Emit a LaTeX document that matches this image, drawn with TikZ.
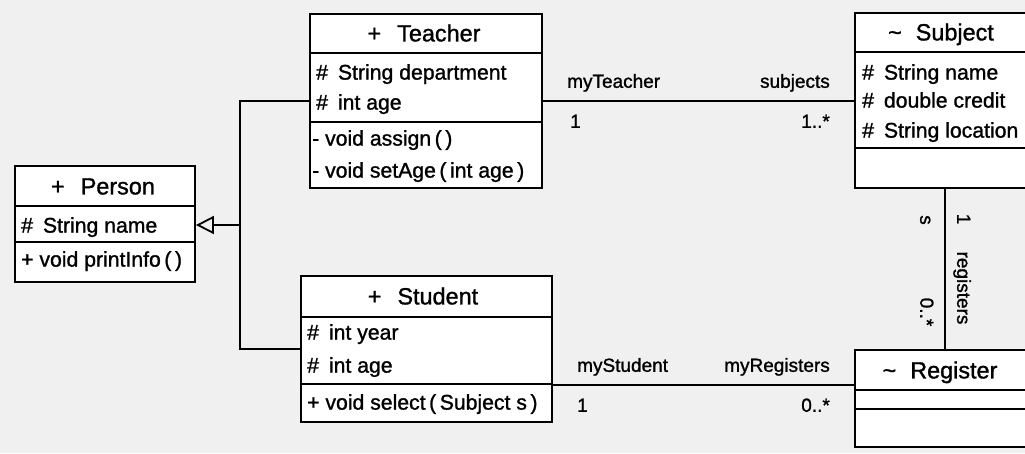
\documentclass[tikz,border=0pt]{standalone}
\usepackage{fontspec}
\setmainfont{Liberation Sans}[FakeBold=1.2]
\usetikzlibrary{arrows.meta}
\definecolor{bg}{RGB}{240,240,240}
\begin{document}
\begin{tikzpicture}[x=1pt,y=-1pt,
  classbox/.style={draw, fill=white, line width=1.8pt, inner sep=0pt, rectangle},
  title/.style={font=\fontsize{23.4}{26}\selectfont, inner sep=0pt, text height=16.8pt, text depth=0pt},
  member/.style={font=\fontsize{21.2}{24}\selectfont, anchor=west, inner sep=0pt, text height=15.2pt, text depth=0pt},
  role/.style={font=\fontsize{19}{22}\selectfont, inner sep=0pt, text height=13.6pt, text depth=0pt},
  rule/.style={line width=1.8pt},
  link/.style={line width=1.8pt}]
\fill[bg] (0,0) rectangle (1025,453);
\useasboundingbox (0,0) rectangle (1025,453);
\clip (0,0) rectangle (1025,453);

% Person
\node[classbox, minimum width=180pt, minimum height=116pt] (person) at (105,224) {};
\draw[rule] (person.west |- 0,206) -- (person.east |- 0,206);
\draw[rule] (person.west |- 0,242) -- (person.east |- 0,242);
\node[title] (personT) at (103,186) {+\hspace{16pt}Person};
\node[member] (personA1) at (21,225) {\#\hspace{10pt}String name};
\node[member] (personM1) at (21,259) {+ void printInfo\,(\,)};

% Teacher
\node[classbox, minimum width=232pt, minimum height=174pt] (teacher) at (426,101) {};
\draw[rule] (teacher.west |- 0,53) -- (teacher.east |- 0,53);
\draw[rule] (teacher.west |- 0,122) -- (teacher.east |- 0,122);
\node[title] (teacherT) at (424,33) {+\hspace{16pt}Teacher};
\node[member] (teacherA1) at (316,72) {\#\hspace{10pt}String department};
\node[member] (teacherA2) at (316,102) {\#\hspace{10pt}int age};
\node[member] (teacherM1) at (312,138) {- void assign\,(\,)};
\node[member] (teacherM2) at (312,170) {- void setAge\,(\,int age\,)};

% Student
\node[classbox, minimum width=251pt, minimum height=146pt] (student) at (426.5,349) {};
\draw[rule] (student.west |- 0,317) -- (student.east |- 0,317);
\draw[rule] (student.west |- 0,384) -- (student.east |- 0,384);
\node[title] (studentT) at (423,296) {+\hspace{16pt}Student};
\node[member] (studentA1) at (307,332) {\#\hspace{10pt}int year};
\node[member] (studentA2) at (307,365) {\#\hspace{10pt}int age};
\node[member] (studentM1) at (307,402) {+ void select\,(\,Subject s\,)};

% Subject
\node[classbox, minimum width=180pt, minimum height=175pt] (subject) at (945,100.5) {};
\draw[rule] (subject.west |- 0,52) -- (subject.east |- 0,52);
\draw[rule] (subject.west |- 0,148) -- (subject.east |- 0,148);
\node[title] (subjectT) at (941,32) {\textasciitilde\hspace{14pt}Subject};
\node[member] (subjectA1) at (862,72) {\#\hspace{10pt}String name};
\node[member] (subjectA2) at (862,100) {\#\hspace{10pt}double credit};
\node[member] (subjectA3) at (862,130) {\#\hspace{10pt}String location};

% Register
\node[classbox, minimum width=180pt, minimum height=97pt] (register) at (945,398.5) {};
\draw[rule] (register.west |- 0,390) -- (register.east |- 0,390);
\draw[rule] (register.west |- 0,409) -- (register.east |- 0,409);
\node[title] (registerT) at (940,370) {\textasciitilde\hspace{14pt}Register};

% Generalization: Teacher and Student extend Person
\coordinate (junc) at (240,225);
\draw[link] (teacher.west) -| (junc) |- (student.west);
\draw[link, -{Triangle[open, length=18pt, width=18pt, line width=1.8pt]}] (junc) -- (person.east |- junc);

% Teacher -- Subject
\draw[link] (teacher.east) -- (teacher.east -| subject.west);
\node[role, anchor=west] (r1a) at (567,81) {myTeacher};
\node[role, anchor=east] (r1b) at (830,81) {subjects};
\node[role, anchor=west] (m1a) at (570,121) {1};
\node[role, anchor=east] (m1b) at (830,121) {1..*};

% Student -- Register
\draw[link] (student.east) ++(0,36) coordinate (sr) -- (sr -| register.west);
\node[role, anchor=west] (r2a) at (577,365) {myStudent};
\node[role, anchor=east] (r2b) at (830,365) {myRegisters};
\node[role, anchor=west] (m2a) at (577,405) {1};
\node[role, anchor=east] (m2b) at (830,405) {0..*};

% Subject -- Register
\draw[link] (subject.south) -- (register.north);
\node[role, rotate=-90] (r3a) at (927,220) {s};
\node[role, rotate=-90] (m3a) at (927,312) {0..*};
\node[role, rotate=-90] (m3b) at (964,219) {1};
\node[role, rotate=-90] (r3b) at (964,288) {registers};
\end{tikzpicture}
\end{document}
